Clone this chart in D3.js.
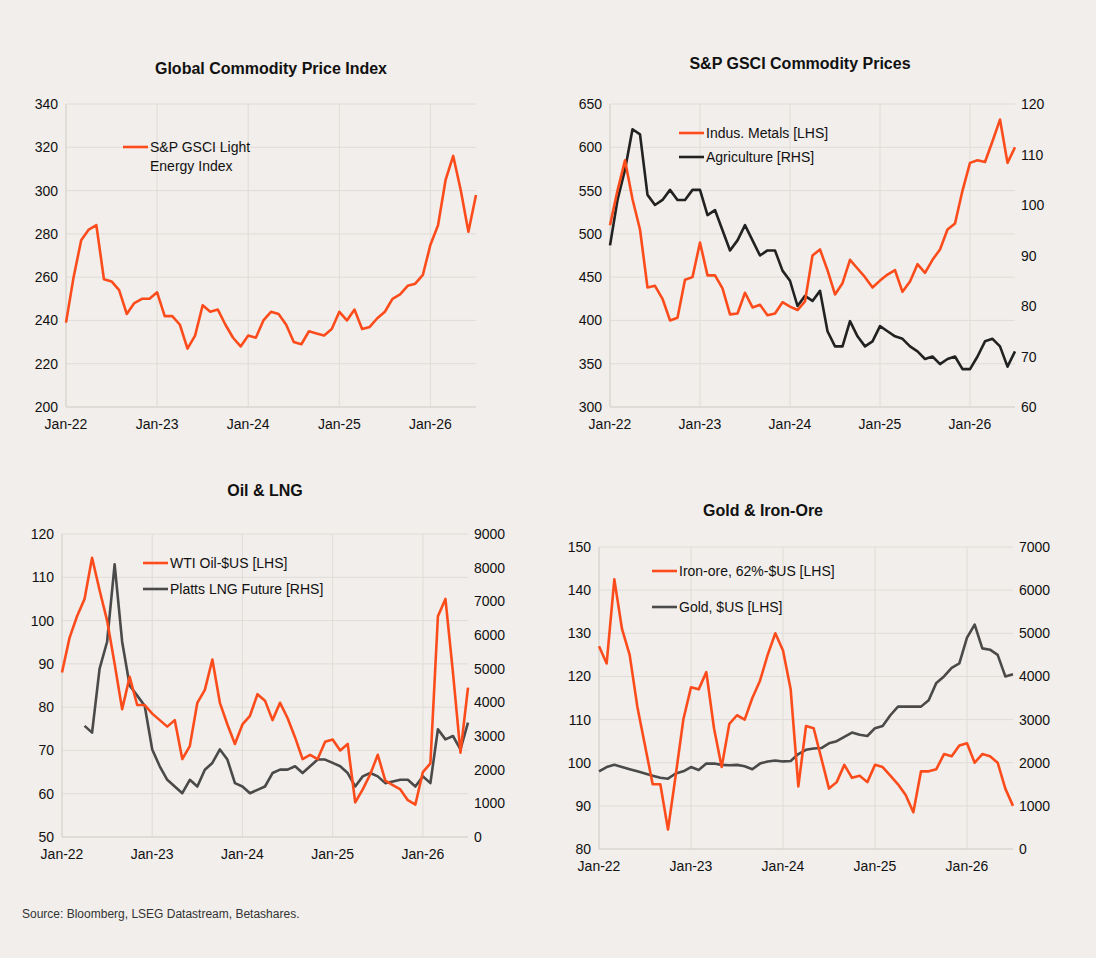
<!DOCTYPE html>
<html><head><meta charset="utf-8">
<script src="https://cdn.jsdelivr.net/npm/d3@7"></script>
<style>body{margin:0;background:#f1eeeb;}svg{display:block;font-family:"Liberation Sans",Arial,sans-serif;}</style>
</head><body><svg id="c" width="1096" height="958"></svg>
<script>
const tickIdx=[0,12,24,36,48];
const tickLabels=["Jan-22","Jan-23","Jan-24","Jan-25","Jan-26"];
const lightEnergy=[239,260,277,282,284,259,258,254,243,248,250,250,253,242,242,238,227,233,247,244,245,238,232,228,233,232,240,244,243,238,230,229,235,234,233,236,244,240,245,236,237,241,244,250,252,256,257,261,275,284,305,316,300,281,298];
const metals=[510,550,585,540,505,438,440,425,400,403,447,450,490,452,452,437,407,408,432,415,418,406,408,421,416,412,422,475,482,458,430,443,470,460,450,438,446,453,458,433,445,465,455,470,482,505,512,550,582,585,583,607,632,582,600];
const agri=[92,101,107,115,114,102,100,101,103,101,101,103,103,98,99,95,91,93,96,93,90,91,91,87,85,80,82,81,83,75,72,72,77,74,72,73,76,75,74,73.5,72,71,69.5,70,68.5,69.5,70,67.5,67.5,70,73,73.5,72,68,71];
const wti=[88,96,101,105,114.5,107,100,90,79.5,87,80.5,80.5,78.5,77,75.5,77,68,71,81,84,91,81,76,71.5,76,78,83,81.5,77,81,77.5,73,68,69,68,72,72.5,70,71.5,58,61,64.5,69,63,62,61,58.5,57.5,65,67,101,105,88,69.5,84.5];
const lng=[null,null,null,3300,3100,5000,5800,8100,5800,4500,4200,3900,2600,2100,1700,1500,1300,1700,1500,2000,2200,2600,2300,1600,1500,1300,1400,1500,1900,2000,2000,2100,1900,2100,2300,2300,2200,2100,1900,1500,1800,1900,1800,1600,1650,1700,1700,1500,1800,1600,3200,2900,3000,2600,3400];
const ironOre=[127,123,142.5,131,125,113,104,95,95,84.5,97,110,117.5,117,121,108,99,109,111,110,115,119,125,130,126,117,94.5,108.5,108,101,94,95.5,99.5,96.5,97,95.5,99.5,99,97,95,92.5,88.5,98,98,98.5,102,101.5,104,104.5,100,102,101.5,100,94,90];
const gold=[1800,1900,1950,1900,1850,1800,1750,1700,1650,1630,1750,1800,1900,1830,1980,1980,1950,1940,1950,1920,1850,1980,2030,2050,2030,2040,2200,2300,2330,2340,2450,2500,2600,2700,2650,2620,2800,2850,3100,3300,3300,3300,3300,3450,3850,4000,4200,4300,4900,5200,4650,4620,4500,4000,4050];

const ORANGE="#fc4c1c", BLACK="#222222", GREY="#4a4a4a";
const svg=d3.select("#c");
svg.append("rect").attr("width",1096).attr("height",958).attr("fill","#f1eeeb");

function panel(o){
  const g=svg.append("g");
  const x=d3.scaleLinear().domain([0,54]).range([o.l,o.r]);
  const y=d3.scaleLinear().domain(o.yd).range([o.b,o.t]);
  const yticks=d3.range(o.yd[0],o.yd[1]+1e-9,o.ys);
  g.selectAll(".hg").data(yticks).join("line").attr("x1",o.l).attr("x2",o.r).attr("y1",d=>y(d)).attr("y2",d=>y(d)).attr("stroke","#e0dcd7");
  g.selectAll(".vg").data(tickIdx).join("line").attr("x1",d=>x(d)).attr("x2",d=>x(d)).attr("y1",o.t).attr("y2",o.b).attr("stroke","#e0dcd7");
  g.append("line").attr("x1",o.l).attr("x2",o.l).attr("y1",o.t).attr("y2",o.b).attr("stroke","#d6d2cd");
  g.append("line").attr("x1",o.l).attr("x2",o.r).attr("y1",o.b).attr("y2",o.b).attr("stroke","#d6d2cd");
  g.selectAll(".yl").data(yticks).join("text").attr("x",o.l-8).attr("y",d=>y(d)+5).attr("text-anchor","end").attr("font-size",14).attr("fill","#111").text(d=>d);
  g.selectAll(".xl").data(tickIdx).join("text").attr("x",d=>x(d)).attr("y",o.b+22).attr("text-anchor","middle").attr("font-size",14).attr("fill","#111").text((d,i)=>tickLabels[i]);
  let y2=null;
  if(o.y2d){
    y2=d3.scaleLinear().domain(o.y2d).range([o.b,o.t]);
    const t2=d3.range(o.y2d[0],o.y2d[1]+1e-9,o.y2s);
    g.selectAll(".yr").data(t2).join("text").attr("x",o.r+6).attr("y",d=>y2(d)+5).attr("font-size",14).attr("fill","#111").text(d=>d);
  }
  g.append("text").attr("x",o.tx).attr("y",o.ty).attr("text-anchor","middle").attr("font-size",16).attr("font-weight","bold").attr("fill","#111").text(o.title);
  o.series.forEach(s=>{
    const sc=s.rhs?y2:y;
    const line=d3.line().defined(d=>d!=null).x((d,i)=>x(i)).y(d=>sc(d));
    g.append("path").attr("d",line(s.data)).attr("fill","none").attr("stroke",s.color).attr("stroke-width",2.6).attr("stroke-linejoin","round");
  });
  o.legend.forEach(L=>{
    g.append("line").attr("x1",L.x).attr("x2",L.x+25).attr("y1",L.y).attr("y2",L.y).attr("stroke",L.color).attr("stroke-width",2.6);
    L.lines.forEach((t,k)=>g.append("text").attr("x",L.x+27).attr("y",L.y+5+k*19).attr("font-size",14).attr("fill","#111").text(t));
  });
}

panel({l:66,r:476,t:104,b:407,yd:[200,340],ys:20,title:"Global Commodity Price Index",tx:271,ty:74,
  series:[{data:lightEnergy,color:ORANGE}],
  legend:[{x:123,y:147,color:ORANGE,lines:["S&P GSCI Light","Energy Index"]}]});
panel({l:610,r:1015,t:104,b:407,yd:[300,650],ys:50,y2d:[60,120],y2s:10,title:"S&P GSCI Commodity Prices",tx:800,ty:69,
  series:[{data:agri,color:BLACK,rhs:true},{data:metals,color:ORANGE}],
  legend:[{x:679,y:133,color:ORANGE,lines:["Indus. Metals [LHS]"]},{x:679,y:157,color:BLACK,lines:["Agriculture [RHS]"]}]});
panel({l:62,r:468,t:534,b:837,yd:[50,120],ys:10,y2d:[0,9000],y2s:1000,title:"Oil & LNG",tx:265,ty:496,
  series:[{data:lng,color:GREY,rhs:true},{data:wti,color:ORANGE}],
  legend:[{x:143,y:563,color:ORANGE,lines:["WTI Oil-$US [LHS]"]},{x:143,y:589,color:GREY,lines:["Platts LNG Future [RHS]"]}]});
panel({l:599,r:1013,t:547,b:849,yd:[80,150],ys:10,y2d:[0,7000],y2s:1000,title:"Gold & Iron-Ore",tx:763,ty:516,
  series:[{data:gold,color:GREY,rhs:true},{data:ironOre,color:ORANGE}],
  legend:[{x:652,y:571,color:ORANGE,lines:["Iron-ore, 62%-$US [LHS]"]},{x:652,y:607,color:GREY,lines:["Gold, $US [LHS]"]}]});

svg.append("text").attr("x",22).attr("y",918).attr("font-size",12).attr("fill","#333").text("Source: Bloomberg, LSEG Datastream, Betashares.");
</script></body></html>
